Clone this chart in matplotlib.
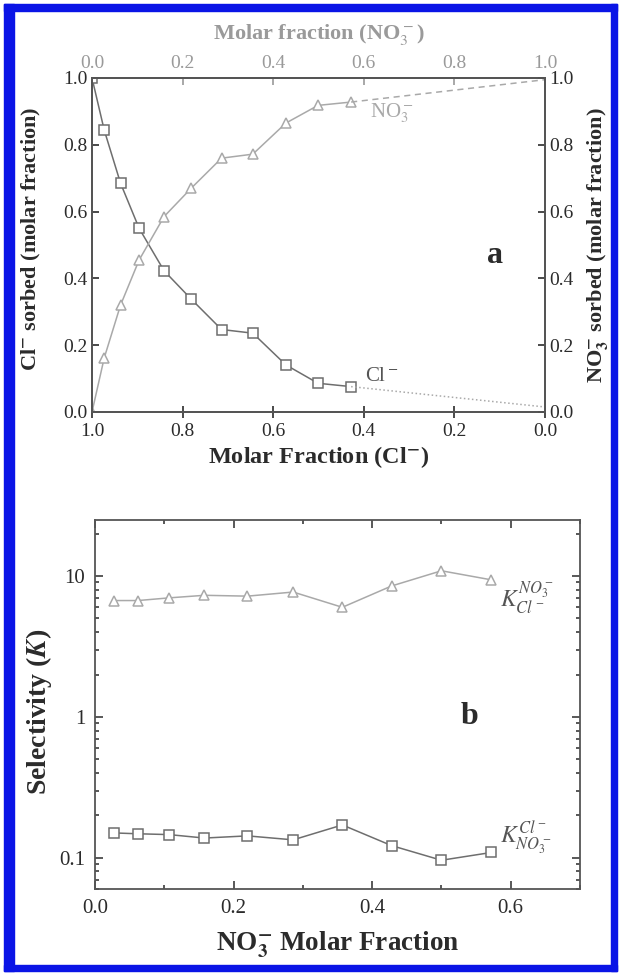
import matplotlib
matplotlib.use("Agg")
import matplotlib.pyplot as plt
from matplotlib.patches import Rectangle
from matplotlib.ticker import MultipleLocator, LogLocator, NullFormatter, FixedLocator

# --- data (a): sorption isotherm ---
cl_solution = [1.0, 0.973, 0.937, 0.896, 0.841, 0.781, 0.714, 0.645, 0.572, 0.501, 0.428]
cl_sorbed = [1.0, 0.844, 0.685, 0.55, 0.423, 0.338, 0.247, 0.236, 0.141, 0.086, 0.076]
no3_sorbed = [0.0, 0.162, 0.32, 0.455, 0.585, 0.67, 0.76, 0.772, 0.865, 0.918, 0.928]
# extrapolated ends (pure NO3- solution)
cl_end = [0.428, 0.0]
cl_end_val = [0.076, 0.015]
no3_end_val = [0.928, 0.995]

# --- data (b): selectivity ---
no3_fraction = [0.028, 0.062, 0.107, 0.158, 0.220, 0.286, 0.357, 0.428, 0.500, 0.572]
k_no3_cl = [6.7, 6.7, 7.0, 7.3, 7.2, 7.7, 6.0, 8.5, 10.9, 9.4]
k_cl_no3 = [0.150, 0.148, 0.146, 0.138, 0.143, 0.134, 0.171, 0.122, 0.096, 0.109]

DARK = "#6e6e6e"
LIGHT = "#a9a9a9"
TXT = "#2b2b2b"
fmt1 = plt.FuncFormatter(lambda v, p: f"{v:.1f}")

plt.rcParams["font.family"] = ["Liberation Serif", "DejaVu Serif"]
plt.rcParams["mathtext.fontset"] = "stix"
plt.rcParams["axes.linewidth"] = 1.3

fig = plt.figure(figsize=(6.2, 9.74), dpi=100)
W, H = 620, 974

def px_axes(x0, y0, x1, y1):
    return fig.add_axes([x0 / W, 1 - y1 / H, (x1 - x0) / W, (y1 - y0) / H])

# ---------------- panel a ----------------
ax = px_axes(92, 78, 545, 412)
ax.plot(cl_solution, cl_sorbed, "-", color=DARK, lw=1.1, marker="s", ms=7.5,
        mfc="white", mec=DARK, mew=1.1)
ax.plot(cl_end, cl_end_val, ":", color=LIGHT, lw=1.1)
ax.plot(cl_solution, no3_sorbed, "-", color=LIGHT, lw=1.1, marker="^", ms=7.5,
        mfc="white", mec=LIGHT, mew=1.1)
ax.plot(cl_end, no3_end_val, "--", color=LIGHT, lw=1.1, dashes=(4, 3))
ax.set_xlim(1.0, 0.0)
ax.set_ylim(0.0, 1.0)
ax.xaxis.set_major_locator(MultipleLocator(0.2))
ax.yaxis.set_major_locator(MultipleLocator(0.2))
ax.xaxis.set_major_formatter(fmt1)
ax.yaxis.set_major_formatter(fmt1)
ax.tick_params(axis="x", direction="inout", length=8, width=1.2, labelsize=14,
               colors=TXT, pad=4)
ax.tick_params(axis="y", direction="in", length=5, width=1.2, labelsize=14,
               colors=TXT, pad=3)
for s in ax.spines.values():
    s.set_color("#555555")
ax.set_xlabel(r"Molar Fraction (Cl$^{\mathbf{-}}$)", fontsize=17.5, fontweight="bold",
              color=TXT, labelpad=3)
ax.set_ylabel(r"Cl$^{\mathbf{-}}$ sorbed (molar fraction)", fontsize=16,
              fontweight="bold", color=TXT)
ax.yaxis.set_label_coords(-0.108, 0.52)

axt = ax.twiny()
axt.set_xlim(0.0, 1.0)
axt.xaxis.set_major_locator(MultipleLocator(0.2))
axt.xaxis.set_major_formatter(fmt1)
axt.tick_params(axis="x", direction="in", length=5, width=1.2, labelsize=14,
                colors="#9a9a9a", pad=4)
axt.set_xlabel(r"Molar fraction (NO$_3^-$)", fontsize=16, color="#9a9a9a",
               fontweight="bold")
axt.xaxis.set_label_coords(0.5, 1.118)

axr = ax.twinx()
axr.set_ylim(0.0, 1.0)
axr.yaxis.set_major_locator(MultipleLocator(0.2))
axr.yaxis.set_major_formatter(fmt1)
axr.tick_params(axis="y", direction="in", length=5, width=1.2, labelsize=14,
                colors=TXT, pad=3)
axr.set_ylabel(r"NO$_\mathbf{3}^\mathbf{-}$ sorbed (molar fraction)", fontsize=16,
               fontweight="bold", color=TXT, rotation=90)
axr.yaxis.set_label_coords(1.088, 0.5)
for a in (axt, axr):
    for s in a.spines.values():
        s.set_color("#555555")

ax.text(0.338, 0.895, r"NO$_3^-$", color=LIGHT, fontsize=15, ha="center", va="center")
ax.text(0.36, 0.105, r"Cl$^-$", color="#555555", fontsize=15, ha="center", va="center")
ax.text(0.11, 0.47, "a", fontsize=23, fontweight="bold", color=TXT,
        ha="center", va="center")

# ---------------- panel b ----------------
bx = px_axes(95, 520, 580, 889)
bx.plot(no3_fraction, k_no3_cl, "-", color=LIGHT, lw=1.1, marker="^", ms=7.5,
        mfc="white", mec=LIGHT, mew=1.1)
bx.plot(no3_fraction, k_cl_no3, "-", color=DARK, lw=1.1, marker="s", ms=7.5,
        mfc="white", mec=DARK, mew=1.1)
bx.set_yscale("log")
bx.set_ylim(0.06, 25)
bx.set_xlim(0.0, 0.7)
bx.xaxis.set_major_locator(FixedLocator([0.0, 0.2, 0.4, 0.6]))
bx.xaxis.set_minor_locator(MultipleLocator(0.1))
bx.xaxis.set_major_formatter(fmt1)
bx.yaxis.set_major_locator(FixedLocator([0.1, 1, 10]))
bx.yaxis.set_major_formatter(plt.FuncFormatter(
    lambda v, p: {0.1: "0.1", 1.0: "1", 10.0: "10"}.get(round(v, 1), "")))
bx.yaxis.set_minor_locator(LogLocator(base=10, subs=range(2, 10)))
bx.yaxis.set_minor_formatter(NullFormatter())
bx.tick_params(which="both", direction="in", top=True, right=True, colors=TXT,
               labelsize=15, width=1.1)
bx.tick_params(which="major", length=6, pad=7)
bx.tick_params(which="minor", length=3)
for s in bx.spines.values():
    s.set_color("#555555")
bx.set_xlabel(r"NO$_\mathbf{3}^\mathbf{-}$ Molar Fraction", fontsize=19.5,
              fontweight="bold", color=TXT, labelpad=9)
bx.set_ylabel(r"Selectivity ($\boldsymbol{K}$)", fontsize=20, fontweight="bold",
              color=TXT, labelpad=8)
bx.yaxis.set_label_coords(-0.085, 0.48)
bx.text(0.585, 7.0, r"$K_{Cl^-}^{NO_3^-}$", fontsize=17, color="#555555",
        ha="left", va="center")
bx.text(0.585, 0.14, r"$K_{NO_3^-}^{Cl^-}$", fontsize=17, color="#555555",
        ha="left", va="center")
bx.text(0.54, 1.0, "b", fontsize=23, fontweight="bold", color=TXT,
        ha="center", va="center")

# ---------------- blue frame ----------------
frame = [(4, 4, 613, 7), (4, 4, 10, 967), (611, 4, 6, 967), (4, 965, 613, 6)]
for x0, y0, w, h in frame:
    fig.patches.append(Rectangle((x0 / W, 1 - (y0 + h) / H), w / W, h / H,
                                 transform=fig.transFigure, color="#0a14e6",
                                 zorder=-1))

fig.savefig("out.png", dpi=100)
